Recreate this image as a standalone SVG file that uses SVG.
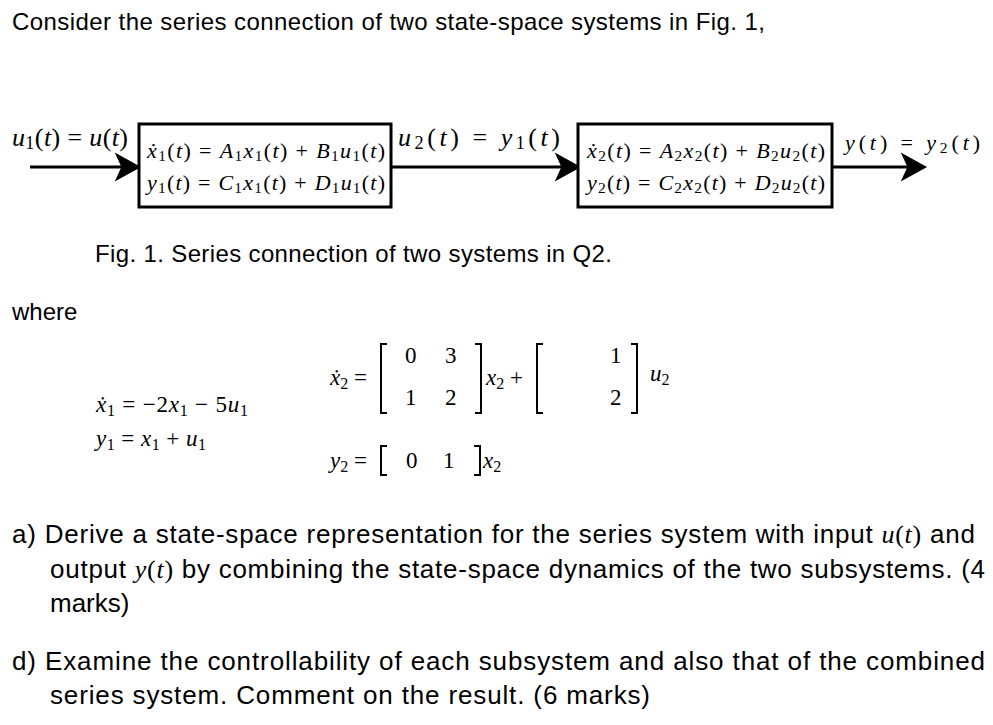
<svg xmlns="http://www.w3.org/2000/svg" width="993" height="725" viewBox="0 0 993 725">
<style>
.s{font-family:"Liberation Sans",Arial,sans-serif;font-size:24px;fill:#000}
.b{font-size:26px}
.m{font-family:"Liberation Serif","Times New Roman",serif;fill:#000}
.e{font-size:22px;font-style:italic}
.l{font-size:26px;font-style:italic}
.q{font-size:23px}
.box{fill:#fff;stroke:#000;stroke-width:3}
.br{fill:none;stroke:#000;stroke-width:2}
.sub{font-size:70%}
</style>
<text class="s" x="12" y="30" textLength="753">Consider the series connection of two state-space systems in Fig. 1,</text>
<g id="connectors" stroke="#000" stroke-width="3" fill="#000">
<line x1="30" y1="167" x2="122" y2="167"/><path d="M138,167 L118,156 L123,167 L118,178Z"/>
<line x1="391" y1="167" x2="562" y2="167"/><path d="M578,167 L558,156 L563,167 L558,178Z"/>
<line x1="832" y1="167" x2="908" y2="167"/><path d="M924,167 L904,156 L909,167 L904,178Z"/>
</g>
<g id="labels" class="m l">
<text x="12" y="146" textLength="116">u<tspan class="sub" dy="3" font-style="normal">1</tspan><tspan dy="-3" font-style="normal">(</tspan>t<tspan font-style="normal">) = </tspan>u<tspan font-style="normal">(</tspan>t<tspan font-style="normal">)</tspan></text>
<text x="398" y="146" textLength="162">u<tspan class="sub" dy="3" font-style="normal">2</tspan><tspan dy="-3" font-style="normal">(</tspan>t<tspan font-style="normal">) = </tspan>y<tspan class="sub" dy="3" font-style="normal">1</tspan><tspan dy="-3" font-style="normal">(</tspan>t<tspan font-style="normal">)</tspan></text>
<text x="845" y="150" font-size="22" textLength="135">y<tspan font-style="normal">(</tspan>t<tspan font-style="normal">) = </tspan>y<tspan class="sub" dy="3" font-style="normal">2</tspan><tspan dy="-3" font-style="normal">(</tspan>t<tspan font-style="normal">)</tspan></text>
</g>
<g id="sys1">
<rect class="box" x="139" y="124" width="252" height="83"/>
<text class="m e" x="147" y="158" textLength="238">ẋ<tspan class="sub" dy="3" font-style="normal">1</tspan><tspan dy="-3" font-style="normal">(</tspan>t<tspan font-style="normal">) = </tspan>A<tspan class="sub" dy="3" font-style="normal">1</tspan><tspan dy="-3">x</tspan><tspan class="sub" dy="3" font-style="normal">1</tspan><tspan dy="-3" font-style="normal">(</tspan>t<tspan font-style="normal">) + </tspan>B<tspan class="sub" dy="3" font-style="normal">1</tspan><tspan dy="-3">u</tspan><tspan class="sub" dy="3" font-style="normal">1</tspan><tspan dy="-3" font-style="normal">(</tspan>t<tspan font-style="normal">)</tspan></text>
<text class="m e" x="147" y="190" textLength="238">y<tspan class="sub" dy="3" font-style="normal">1</tspan><tspan dy="-3" font-style="normal">(</tspan>t<tspan font-style="normal">) = </tspan>C<tspan class="sub" dy="3" font-style="normal">1</tspan><tspan dy="-3">x</tspan><tspan class="sub" dy="3" font-style="normal">1</tspan><tspan dy="-3" font-style="normal">(</tspan>t<tspan font-style="normal">) + </tspan>D<tspan class="sub" dy="3" font-style="normal">1</tspan><tspan dy="-3">u</tspan><tspan class="sub" dy="3" font-style="normal">1</tspan><tspan dy="-3" font-style="normal">(</tspan>t<tspan font-style="normal">)</tspan></text>
</g>
<g id="sys2">
<rect class="box" x="578" y="124" width="254" height="83"/>
<text class="m e" x="587" y="158" textLength="238">ẋ<tspan class="sub" dy="3" font-style="normal">2</tspan><tspan dy="-3" font-style="normal">(</tspan>t<tspan font-style="normal">) = </tspan>A<tspan class="sub" dy="3" font-style="normal">2</tspan><tspan dy="-3">x</tspan><tspan class="sub" dy="3" font-style="normal">2</tspan><tspan dy="-3" font-style="normal">(</tspan>t<tspan font-style="normal">) + </tspan>B<tspan class="sub" dy="3" font-style="normal">2</tspan><tspan dy="-3">u</tspan><tspan class="sub" dy="3" font-style="normal">2</tspan><tspan dy="-3" font-style="normal">(</tspan>t<tspan font-style="normal">)</tspan></text>
<text class="m e" x="587" y="190" textLength="238">y<tspan class="sub" dy="3" font-style="normal">2</tspan><tspan dy="-3" font-style="normal">(</tspan>t<tspan font-style="normal">) = </tspan>C<tspan class="sub" dy="3" font-style="normal">2</tspan><tspan dy="-3">x</tspan><tspan class="sub" dy="3" font-style="normal">2</tspan><tspan dy="-3" font-style="normal">(</tspan>t<tspan font-style="normal">) + </tspan>D<tspan class="sub" dy="3" font-style="normal">2</tspan><tspan dy="-3">u</tspan><tspan class="sub" dy="3" font-style="normal">2</tspan><tspan dy="-3" font-style="normal">(</tspan>t<tspan font-style="normal">)</tspan></text>
</g>
<text class="s" x="95" y="262" textLength="517">Fig. 1. Series connection of two systems in Q2.</text>
<text class="s" x="12" y="320">where</text>
<g class="m q">
<text x="96" y="412" textLength="152"><tspan font-style="italic">ẋ</tspan><tspan class="sub" dy="4">1</tspan><tspan dy="-4"> = −2</tspan><tspan font-style="italic">x</tspan><tspan class="sub" dy="4">1</tspan><tspan dy="-4"> − 5</tspan><tspan font-style="italic">u</tspan><tspan class="sub" dy="4">1</tspan></text>
<text x="96" y="446" textLength="110"><tspan font-style="italic">y</tspan><tspan class="sub" dy="4">1</tspan><tspan dy="-4"> = </tspan><tspan font-style="italic">x</tspan><tspan class="sub" dy="4">1</tspan><tspan dy="-4"> + </tspan><tspan font-style="italic">u</tspan><tspan class="sub" dy="4">1</tspan></text>
<text x="330" y="385"><tspan font-style="italic">ẋ</tspan><tspan class="sub" dy="4">2</tspan><tspan dy="-4"> =</tspan></text>
<path class="br" d="M387,344 H381 V413 H387 M475,344 H481 V413 H475"/>
<text x="405" y="363">0</text><text x="445" y="363">3</text>
<text x="405" y="405">1</text><text x="445" y="405">2</text>
<text x="486" y="385"><tspan font-style="italic">x</tspan><tspan class="sub" dy="4">2</tspan><tspan dy="-4"> +</tspan></text>
<path class="br" d="M543,344 H537 V413 H543 M631,344 H637 V413 H631"/>
<text x="610" y="363">1</text><text x="610" y="405">2</text>
<text x="650" y="381" font-style="italic">u<tspan class="sub" dy="4" font-style="normal">2</tspan></text>
<text x="330" y="468"><tspan font-style="italic">y</tspan><tspan class="sub" dy="4">2</tspan><tspan dy="-4"> =</tspan></text>
<path class="br" d="M387,446 H381 V475 H387 M474,446 H480 V475 H474"/>
<text x="406" y="468">0</text><text x="443" y="468">1</text>
<text x="483" y="468" font-style="italic">x<tspan class="sub" dy="4" font-style="normal">2</tspan></text>
</g>
<g class="s">
<text class="b" x="12" y="543" textLength="963">a)  Derive a state-space representation for the series system with input <tspan class="m" font-style="italic">u</tspan><tspan class="m">(</tspan><tspan class="m" font-style="italic">t</tspan><tspan class="m">)</tspan> and</text>
<text class="b" x="50" y="578" textLength="935">output <tspan class="m" font-style="italic">y</tspan><tspan class="m">(</tspan><tspan class="m" font-style="italic">t</tspan><tspan class="m">)</tspan> by combining the state-space dynamics of the two subsystems. (4</text>
<text class="b" x="50" y="612">marks)</text>
<text class="b" x="12" y="670" textLength="973">d)  Examine the controllability of each subsystem and also that of the combined</text>
<text class="b" x="50" y="704" textLength="600">series system. Comment on the result. (6 marks)</text>
</g>
</svg>
